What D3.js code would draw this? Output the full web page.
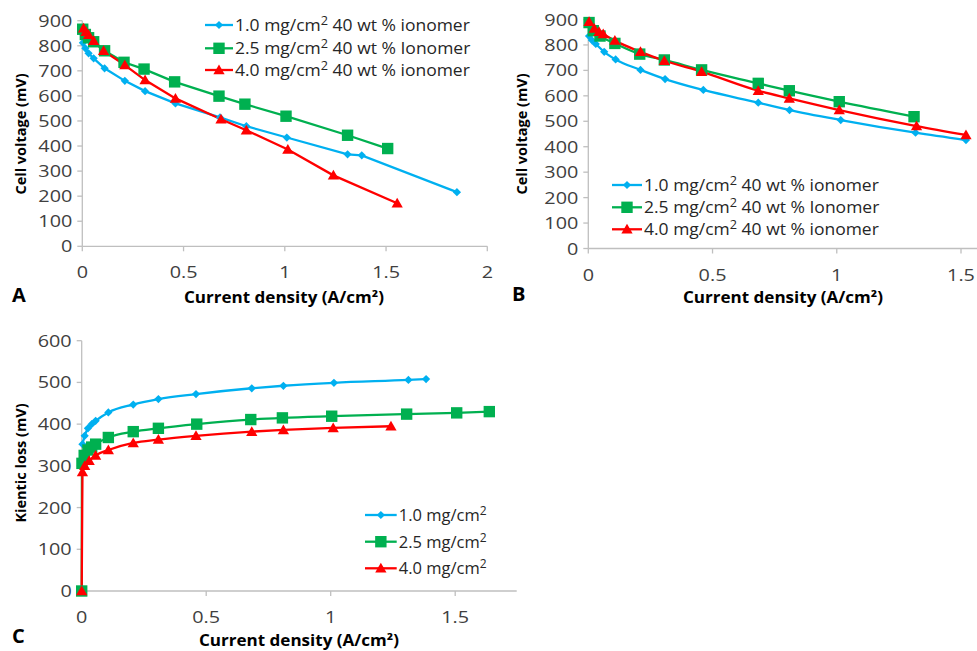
<!DOCTYPE html>
<html>
<head>
<meta charset="utf-8">
<script src="https://cdn.jsdelivr.net/npm/d3@7"></script>
<style>
  body { margin: 0; background: #fff; }
  text { font-family: 'Open Sans', 'Liberation Sans', sans-serif; }
</style>
</head>
<body>
<div id="chart"></div>
<script>
// ---- data: [current density (A/cm2), mV] ----
let aBlue = [[0.003, 812], [0.015, 790], [0.031, 770], [0.056, 750], [0.11, 710], [0.21, 660], [0.31, 619], [0.46, 570], [0.68, 514], [0.81, 479], [1.01, 434], [1.31, 367], [1.38, 363], [1.85, 216]]
let aGreen = [[0.002, 866], [0.015, 845], [0.031, 832], [0.056, 816], [0.11, 780], [0.206, 734], [0.305, 707], [0.456, 656], [0.675, 599], [0.803, 567], [1.006, 519], [1.31, 443], [1.508, 390]]
let aRed = [[0.006, 870], [0.018, 856], [0.031, 844], [0.056, 820], [0.105, 780], [0.21, 723], [0.31, 663], [0.46, 590], [0.685, 507], [0.81, 463], [1.015, 386], [1.24, 283], [1.555, 172]]

let bBlue = [[0.003, 835], [0.015, 818], [0.03, 804], [0.064, 773], [0.11, 743], [0.21, 702], [0.309, 666], [0.463, 623], [0.684, 573], [0.81, 544], [1.016, 505], [1.317, 455], [1.52, 426]]
let bGreen = [[0.003, 888], [0.02, 856], [0.047, 835], [0.107, 806], [0.207, 764], [0.306, 741], [0.456, 702], [0.684, 649], [0.809, 620], [1.01, 577], [1.311, 518]]
let bRed = [[0.003, 891], [0.024, 865], [0.043, 852], [0.06, 843], [0.107, 817], [0.21, 773], [0.306, 738], [0.456, 695], [0.684, 620], [0.809, 590], [1.01, 544], [1.321, 481], [1.52, 446]]

let cBlue = [[0.003, 352], [0.012, 372], [0.025, 390], [0.04, 400], [0.056, 408], [0.107, 428], [0.207, 447], [0.308, 460], [0.459, 472], [0.683, 486], [0.81, 492], [1.013, 499], [1.312, 506], [1.383, 508]]
let cGreen = [[0, 0], [0.001, 306], [0.01, 325], [0.025, 338], [0.04, 345], [0.056, 352], [0.107, 368], [0.207, 382], [0.308, 390], [0.462, 400], [0.679, 411], [0.806, 415], [1.004, 419], [1.305, 424], [1.506, 427], [1.637, 430]]
let cRed = [[0, 0], [0.003, 285], [0.012, 300], [0.03, 312], [0.056, 325], [0.107, 338], [0.207, 355], [0.308, 363], [0.459, 372], [0.683, 382], [0.81, 386], [1.01, 391], [1.242, 395]]

let loadings = ['1.0', '2.5', '4.0']
let legendTailAB = [' 40 wt % ionomer', ' 40 wt % Ionomer', ' 40 wt % ionomer']
let xTicksA = [0, 0.5, 1, 1.5, 2]
let xTicksB = [0, 0.5, 1, 1.5]
let xTicksC = [0, 0.5, 1, 1.5]
let yTicksAB = [0, 100, 200, 300, 400, 500, 600, 700, 800, 900]
let yTicksC = [0, 100, 200, 300, 400, 500, 600]

let colors = ['#00b0f0', '#00b050', '#ff0000']
let shapes = ['diamond', 'square', 'triangle']

let svg = d3.select('#chart')
  .append('svg')
  .attr('width', 977)
  .attr('height', 651)
  .style('background', '#fff')

function marker(g, shape, color, x, y) {
  if (shape === 'diamond') {
    g.append('path')
      .attr('d', d3.symbol(d3.symbolSquare, 34)())
      .attr('transform', `translate(${x},${y}) rotate(45)`)
      .attr('fill', color)
  } else if (shape === 'square') {
    g.append('path')
      .attr('d', d3.symbol(d3.symbolSquare, 130)())
      .attr('transform', `translate(${x},${y})`)
      .attr('fill', color)
  } else {
    g.append('path')
      .attr('d', d3.symbol(d3.symbolTriangle, 55)())
      .attr('transform', `translate(${x},${y + 1})`)
      .attr('fill', color)
  }
}

function panel(opt) {
  let g = svg.append('g')
  let x = d3.scaleLinear().domain(opt.xDomain).range(opt.xRange)
  let y = d3.scaleLinear().domain(opt.yDomain).range(opt.yRange)

  // axes
  g.append('line')
    .attr('x1', x(0)).attr('x2', opt.xLineEnd)
    .attr('y1', y(0)).attr('y2', y(0))
    .attr('stroke', '#bfbfbf').attr('stroke-width', 1.3)
  g.append('line')
    .attr('x1', x(0)).attr('x2', x(0))
    .attr('y1', y(0)).attr('y2', y(opt.yDomain[1]))
    .attr('stroke', '#bfbfbf').attr('stroke-width', 1.3)

  // the picture's text is a little stretched sideways, hence scale(1.2,1)
  opt.xTicks.forEach(t => {
    g.append('line')
      .attr('x1', x(t)).attr('x2', x(t))
      .attr('y1', y(0)).attr('y2', y(0) + 5)
      .attr('stroke', '#bfbfbf').attr('stroke-width', 1.3)
    g.append('text')
      .attr('transform', `translate(${x(t)},${y(0) + 32}) scale(1.2,1)`)
      .attr('text-anchor', 'middle')
      .attr('font-size', 16.5)
      .attr('fill', '#404040')
      .text(t)
  })
  opt.yTicks.forEach(t => {
    g.append('line')
      .attr('x1', x(0) - 5).attr('x2', x(0))
      .attr('y1', y(t)).attr('y2', y(t))
      .attr('stroke', '#bfbfbf').attr('stroke-width', 1.3)
    g.append('text')
      .attr('transform', `translate(${x(0) - 10},${y(t) + 6}) scale(1.2,1)`)
      .attr('text-anchor', 'end')
      .attr('font-size', 16.5)
      .attr('fill', '#404040')
      .text(t)
  })

  // titles
  g.append('text')
    .attr('transform', `translate(${opt.xTitle[0]},${opt.xTitle[1]}) scale(1.1,1)`)
    .attr('text-anchor', 'middle')
    .attr('font-size', 15.5).attr('font-weight', 'bold')
    .text('Current density (A/cm²)')
  g.append('text')
    .attr('transform', `translate(${opt.yTitle[0]},${opt.yTitle[1]}) rotate(-90)`)
    .attr('text-anchor', 'middle')
    .attr('font-size', 14.5).attr('font-weight', 'bold')
    .text(opt.yLabel)
  g.append('text')
    .attr('x', opt.letter[0]).attr('y', opt.letter[1])
    .attr('font-size', 20).attr('font-weight', 'bold')
    .text(opt.letterText)

  // series
  let line = d3.line()
    .x(d => x(d[0]))
    .y(d => y(d[1]))
    .curve(opt.curve)
  opt.series.forEach((s, i) => {
    g.append('path')
      .datum(s)
      .attr('d', line)
      .attr('fill', 'none')
      .attr('stroke', colors[i])
      .attr('stroke-width', 2.3)
  })
  opt.series.forEach((s, i) => {
    let mg = g.append('g')
    s.forEach(d => marker(mg, shapes[i], colors[i], x(d[0]), y(d[1])))
  })

  // legend
  let lg = opt.legend
  loadings.forEach((l, i) => {
    let ly = lg.y[i]
    g.append('line')
      .attr('x1', lg.x1).attr('x2', lg.x2)
      .attr('y1', ly).attr('y2', ly)
      .attr('stroke', colors[i]).attr('stroke-width', 2.3)
    marker(g, shapes[i], colors[i], (lg.x1 + lg.x2) / 2, ly)
    let t = g.append('text')
      .attr('transform', `translate(${lg.x2 + 2},${ly + 6}) scale(${lg.sx},1)`)
      .attr('font-size', 16.5)
      .attr('fill', '#262626')
    t.append('tspan').text(l + ' mg/cm')
    t.append('tspan').attr('dy', -6).attr('font-size', 12).text('2')
    if (lg.tail) t.append('tspan').attr('dy', 6).text(lg.tail[i])
  })
}

panel({
  xDomain: [0, 2], xRange: [82.3, 487.3], xLineEnd: 487.3,
  yDomain: [0, 900], yRange: [246.3, 20.7],
  xTicks: xTicksA, yTicks: yTicksAB,
  xTitle: [284, 303], yTitle: [26, 134], yLabel: 'Cell voltage (mV)',
  letter: [12, 302], letterText: 'A',
  curve: d3.curveLinear,
  series: [aBlue, aGreen, aRed],
  legend: { x1: 205, x2: 233, y: [25, 48.3, 70], tail: legendTailAB, sx: 1.06 }
})

panel({
  xDomain: [0, 1.5], xRange: [588.3, 961], xLineEnd: 977,
  yDomain: [0, 900], yRange: [248.5, 19.5],
  xTicks: xTicksB, yTicks: yTicksAB,
  xTitle: [783, 303], yTitle: [527, 134], yLabel: 'Cell voltage (mV)',
  letter: [512, 301], letterText: 'B',
  curve: d3.curveMonotoneX,
  series: [bBlue, bGreen, bRed],
  legend: { x1: 612, x2: 642, y: [185, 207.3, 229.3], tail: legendTailAB, sx: 1.06 }
})

panel({
  xDomain: [0, 1.5], xRange: [81.7, 455.2], xLineEnd: 516.7,
  yDomain: [0, 600], yRange: [591, 340.7],
  xTicks: xTicksC, yTicks: yTicksC,
  xTitle: [299, 646], yTitle: [26, 463], yLabel: 'Kientic loss (mV)',
  letter: [12, 643], letterText: 'C',
  curve: d3.curveMonotoneX,
  series: [cBlue, cGreen, cRed],
  legend: { x1: 365, x2: 396.7, y: [515, 541.7, 568.3], tail: null, sx: 1 }
})
</script>
</body>
</html>
